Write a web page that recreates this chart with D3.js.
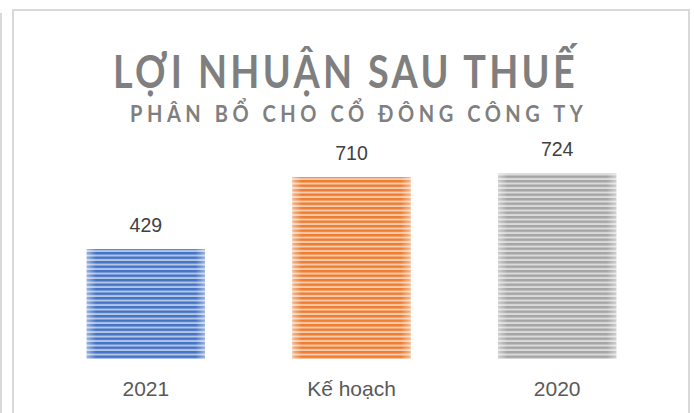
<!DOCTYPE html>
<html>
<head>
<meta charset="utf-8">
<script src="https://cdn.jsdelivr.net/npm/d3@7"></script>
<style>
html,body{margin:0;padding:0;background:#fff;}
svg{display:block;}
</style>
</head>
<body>
<svg id="chart" width="694" height="413"></svg>
<script>
const categories = ["2021", "Kế hoạch", "2020"];
const values = [429, 710, 724];
const barColors = ["#4472C4", "#ED7D31", "#A5A5A5"];
const lightColors = ["#B4C7E7", "#F8CBAD", "#DBDBDB"];
const titleText = "LỢI NHUẬN SAU THUẾ";
const subtitleText = "PHÂN BỔ CHO CỔ ĐÔNG CÔNG TY";

const svg = d3.select("#chart");
const W = 694, H = 413;

// frames
svg.append("line").attr("x1", 1).attr("x2", 1).attr("y1", 13).attr("y2", H)
  .attr("stroke", "#d9d9d9").attr("stroke-width", 2);
svg.append("path").attr("d", `M13,${H+5} L13,10 L689,10 L689,${H+5}`)
  .attr("fill", "none").attr("stroke", "#d9d9d9").attr("stroke-width", 2);

const defs = svg.append("defs");
barColors.forEach((c, i) => {
  const p = defs.append("pattern").attr("id", "pat" + i)
    .attr("patternUnits", "userSpaceOnUse").attr("width", 8).attr("height", 4.5);
  p.append("rect").attr("width", 8).attr("height", 4.5).attr("fill", lightColors[i]);
  p.append("rect").attr("width", 8).attr("height", 2.5).attr("fill", c);
});
const g = defs.append("linearGradient").attr("id", "fade");
g.append("stop").attr("offset", "0%").attr("stop-color", "#fff").attr("stop-opacity", 0.45);
g.append("stop").attr("offset", "8%").attr("stop-color", "#fff").attr("stop-opacity", 0);
g.append("stop").attr("offset", "92%").attr("stop-color", "#fff").attr("stop-opacity", 0);
g.append("stop").attr("offset", "100%").attr("stop-color", "#fff").attr("stop-opacity", 0.45);

const x = d3.scaleBand().domain(categories).range([43, 660]).paddingInner(0.425).paddingOuter(0.2125);
const y = d3.scaleLinear().domain([0, 800]).range([359, 154]);

const bars = svg.append("g").selectAll("g").data(values).join("g");
bars.append("rect")
  .attr("x", (d, i) => x(categories[i]))
  .attr("y", d => y(d))
  .attr("width", x.bandwidth())
  .attr("height", d => y(0) - y(d))
  .attr("fill", (d, i) => `url(#pat${i})`);
bars.append("rect")
  .attr("x", (d, i) => x(categories[i]))
  .attr("y", d => y(d))
  .attr("width", x.bandwidth())
  .attr("height", d => y(0) - y(d))
  .attr("fill", "url(#fade)");

// data labels
svg.append("g").selectAll("text").data(values).join("text")
  .attr("x", (d, i) => x(categories[i]) + x.bandwidth() / 2)
  .attr("y", d => y(d) - 17)
  .attr("text-anchor", "middle")
  .attr("font-family", "Liberation Sans, Arial, sans-serif")
  .attr("font-size", 19.5)
  .attr("fill", "#404040")
  .text(d => d);

// category axis
const xAxis = d3.axisBottom(x).tickSize(0).tickPadding(0);
const ax = svg.append("g").attr("transform", `translate(0,${y(0)})`).call(xAxis);
ax.select(".domain").remove();
ax.selectAll("text")
  .attr("dy", 0).attr("y", 37)
  .attr("font-family", "Liberation Sans, Arial, sans-serif")
  .attr("font-size", 21)
  .attr("fill", "#595959");

// titles, horizontally fitted to the reference widths
function fitText(txt, baseline, size, spacing, left, right) {
  const t = svg.append("text").attr("x", 0).attr("y", 0)
    .attr("text-anchor", "start")
    .attr("font-family", "Lato, Open Sans, sans-serif")
    .attr("font-weight", "bold")
    .attr("font-size", size)
    .attr("letter-spacing", spacing)
    .attr("fill", "#7f7f7f")
    .text(txt);
  const bb = t.node().getBBox();
  const sx = (right - left) / (bb.width - spacing);
  t.attr("transform", `translate(${left - bb.x * sx},${baseline}) scale(${sx},1)`);
}
fitText(titleText, 88, 45, 4, 113, 575);
fitText(subtitleText, 122, 22, 5, 130, 583);
</script>
</body>
</html>
